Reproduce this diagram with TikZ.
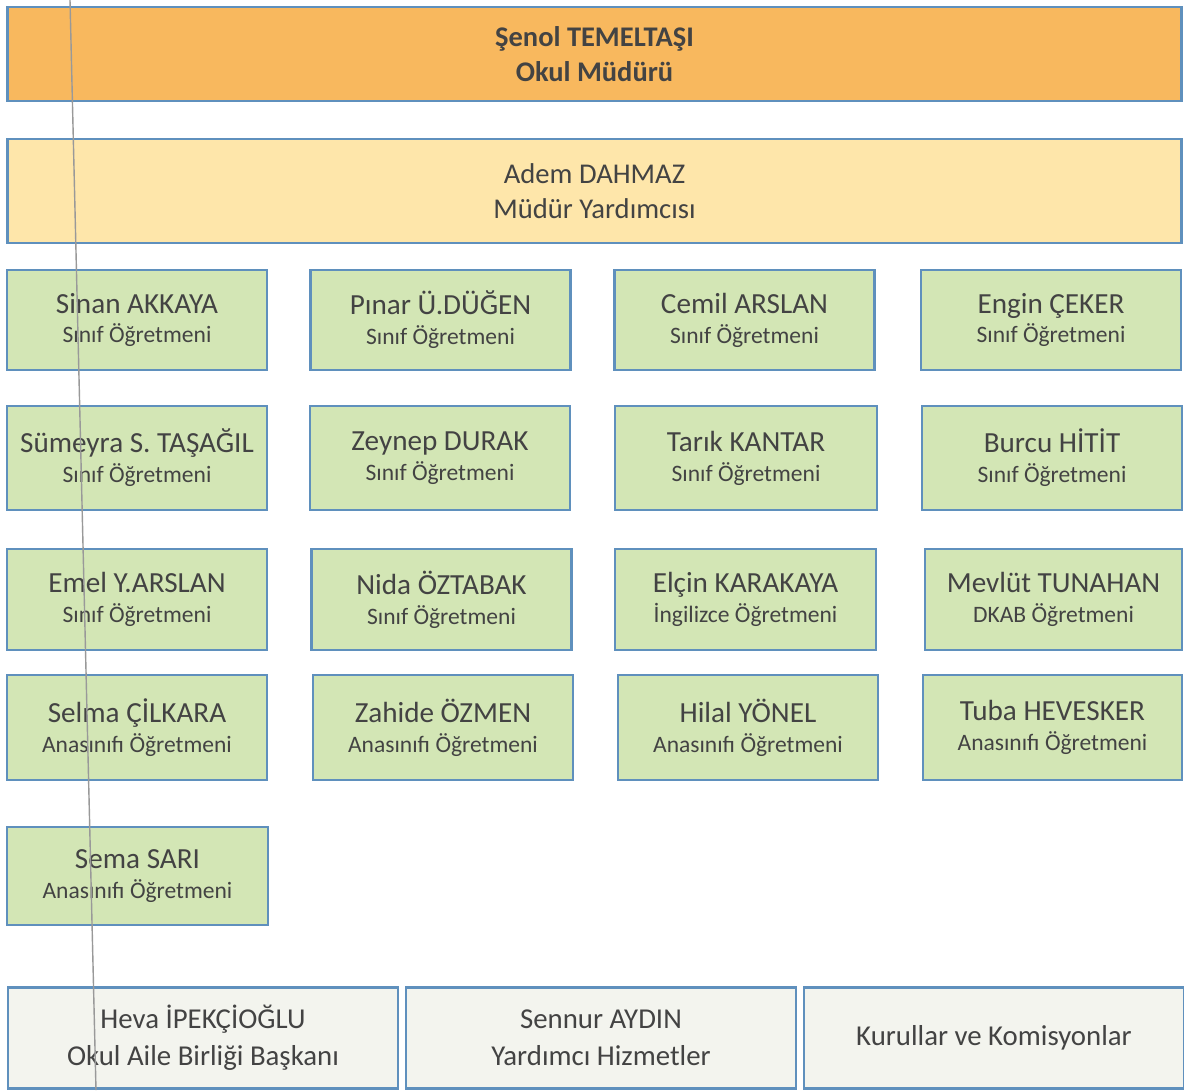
\documentclass[tikz,border=0pt]{standalone}
\usepackage{fontspec}
\setmainfont{Carlito}
\definecolor{edge}{HTML}{5F90BD}
\definecolor{head}{HTML}{F8B85E}
\definecolor{depu}{HTML}{FEE6AA}
\definecolor{staff}{HTML}{D3E6B5}
\definecolor{misc}{HTML}{F3F4EE}
\definecolor{ink}{HTML}{434343}
\tikzset{
  box/.style={draw=edge, line width=1.6pt, text=ink, align=center, inner sep=0pt},
  teacher/.style={box, fill=staff, minimum width=5.2cm, minimum height=2cm, font=\fontsize{16.6}{17}\selectfont},
  other/.style={box, fill=misc, minimum width=7.8cm, minimum height=2.02cm, font=\fontsize{16.4}{21}\selectfont}
}
\newcommand{\rolefont}{\fontsize{13.4}{14}\selectfont}
\begin{document}
\begin{tikzpicture}[x=0.02cm, y=-0.02cm]
    \useasboundingbox (0,0) rectangle (1184,1090);
    \fill [white] (0,0) rectangle (1184,1090);
    % management
    \node [box, fill=head, minimum width=23.5cm, minimum height=1.88cm, font=\bfseries\fontsize{16.2}{20}\selectfont] (mudur) at (594.5,54) {Şenol TEMELTAŞI\\Okul Müdürü};
    \node [box, fill=depu, minimum width=23.5cm, minimum height=2.08cm, font=\fontsize{16.3}{20}\selectfont] (yardimci) at (594.5,191) {Adem DAHMAZ\\Müdür Yardımcısı};
    % row 1
    \node [teacher] (sinan) at (137,320) {Sinan AKKAYA\\{\rolefont Sınıf Öğretmeni}};
    \node [teacher] (pinar) at (440.5,320) {Pınar Ü.DÜĞEN\\{\rolefont Sınıf Öğretmeni}};
    \node [teacher] (cemil) at (744.5,320) {Cemil ARSLAN\\{\rolefont Sınıf Öğretmeni}};
    \node [teacher] (engin) at (1051,320) {Engin ÇEKER\\{\rolefont Sınıf Öğretmeni}};
    % row 2
    \node [teacher, minimum height=2.08cm] (sumeyra) at (137,458) {Sümeyra S. TAŞAĞIL\\{\rolefont Sınıf Öğretmeni}};
    \node [teacher, minimum height=2.08cm] (zeynep) at (440,458) {Zeynep DURAK\\{\rolefont Sınıf Öğretmeni}};
    \node [teacher, minimum height=2.08cm, minimum width=5.24cm] (tarik) at (746,458) {Tarık KANTAR\\{\rolefont Sınıf Öğretmeni}};
    \node [teacher, minimum height=2.08cm] (burcu) at (1052,458) {Burcu HİTİT\\{\rolefont Sınıf Öğretmeni}};
    % row 3
    \node [teacher, minimum height=2.02cm] (emel) at (137,599.5) {Emel Y.ARSLAN\\{\rolefont Sınıf Öğretmeni}};
    \node [teacher, minimum height=2.02cm] (nida) at (441.5,599.5) {Nida ÖZTABAK\\{\rolefont Sınıf Öğretmeni}};
    \node [teacher, minimum height=2.02cm, minimum width=5.22cm] (elcin) at (745.5,599.5) {Elçin KARAKAYA\\{\rolefont İngilizce Öğretmeni}};
    \node [teacher, minimum height=2.02cm, minimum width=5.14cm] (mevlut) at (1053.5,599.5) {Mevlüt TUNAHAN\\{\rolefont DKAB Öğretmeni}};
    % row 4
    \node [teacher, minimum height=2.1cm] (selma) at (137,727.5) {Selma ÇİLKARA\\{\rolefont Anasınıfı Öğretmeni}};
    \node [teacher, minimum height=2.1cm] (zahide) at (443,727.5) {Zahide ÖZMEN\\{\rolefont Anasınıfı Öğretmeni}};
    \node [teacher, minimum height=2.1cm] (hilal) at (748,727.5) {Hilal YÖNEL\\{\rolefont Anasınıfı Öğretmeni}};
    \node [teacher, minimum height=2.1cm, minimum width=5.18cm] (tuba) at (1052.5,727.5) {Tuba HEVESKER\\{\rolefont Anasınıfı Öğretmeni}};
    % row 5
    \node [teacher, minimum height=1.96cm, minimum width=5.22cm] (sema) at (137.5,876) {Sema SARI\\{\rolefont Anasınıfı Öğretmeni}};
    % bottom row
    \node [other] (heva) at (203,1038) {Heva İPEKÇİOĞLU\\Okul Aile Birliği Başkanı};
    \node [other] (sennur) at (601,1038) {Sennur AYDIN\\Yardımcı Hizmetler};
    \node [other, minimum width=7.6cm] (kurul) at (994,1038) {Kurullar ve Komisyonlar};
    % scan line
    \draw [black!40, line width=0.8pt] (70,0) -- (96,1090);
\end{tikzpicture}
\end{document}
